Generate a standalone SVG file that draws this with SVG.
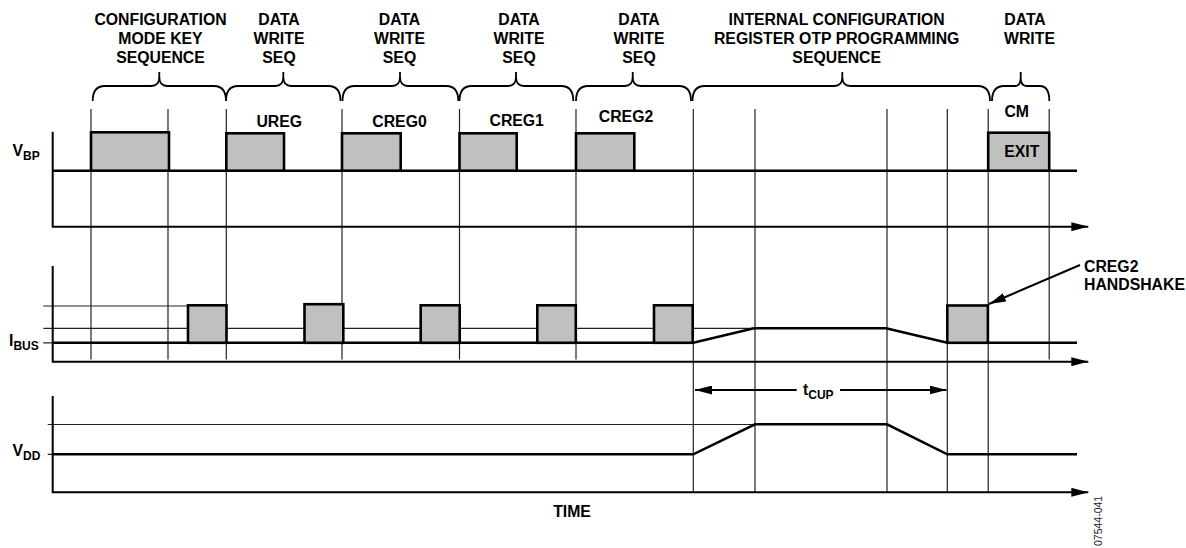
<svg xmlns="http://www.w3.org/2000/svg" width="1186" height="548" viewBox="0 0 1186 548">
<defs>
<marker id="ah" markerUnits="userSpaceOnUse" markerWidth="17" markerHeight="9" refX="17" refY="4.5" orient="auto"><path d="M0,0 L17,4.5 L0,9 Z" fill="#000"/></marker>
</defs>
<style>
.t{font-family:"Liberation Sans",Arial,Helvetica,sans-serif;font-weight:bold;font-size:15.8px;fill:#000}
.c{text-anchor:middle}
.sub{font-size:12px}
.ax{stroke:#000;stroke-width:2;fill:none}
.g{stroke:#222;stroke-width:1.2;fill:none}
.th{stroke:#000;stroke-width:2.6;fill:none;stroke-linejoin:miter}
.p{fill:#c0c0c0;stroke:#000;stroke-width:2.6}
.br{stroke:#000;stroke-width:1.8;fill:none}
</style>
<rect width="1186" height="548" fill="#fff"/>

<g id="headers" class="t c">
<text x="160.5" y="25">CONFIGURATION</text>
<text x="160.5" y="44.3">MODE KEY</text>
<text x="160.5" y="63">SEQUENCE</text>
<text x="279" y="25">DATA</text>
<text x="279" y="44.3">WRITE</text>
<text x="279" y="63">SEQ</text>
<text x="399.5" y="25">DATA</text>
<text x="399.5" y="44.3">WRITE</text>
<text x="399.5" y="63">SEQ</text>
<text x="519" y="25">DATA</text>
<text x="519" y="44.3">WRITE</text>
<text x="519" y="63">SEQ</text>
<text x="639" y="25">DATA</text>
<text x="639" y="44.3">WRITE</text>
<text x="639" y="63">SEQ</text>
<text x="836.7" y="25">INTERNAL CONFIGURATION</text>
<text x="836.7" y="44.3">REGISTER OTP PROGRAMMING</text>
<text x="836.7" y="63">SEQUENCE</text>
<text x="1025" y="25">DATA</text>
<text x="1029.5" y="44.3">WRITE</text>
</g>

<g id="braces" class="br">
<path d="M92.7,101 Q92.7,86 104.7,86 H151.3 Q159.3,86 159.3,77 V72 M159.3,77 Q159.3,86 167.3,86 H214 Q226,86 226,101"/>
<path d="M226,101 Q226,86 238,86 H275.3 Q283.3,86 283.3,77 V72 M283.3,77 Q283.3,86 291.3,86 H328.5 Q340.5,86 340.5,101"/>
<path d="M342.5,101 Q342.5,86 354.5,86 H392 Q400,86 400,77 V72 M400,77 Q400,86 408,86 H446.3 Q458.3,86 458.3,101"/>
<path d="M459.5,101 Q459.5,86 471.5,86 H508 Q516,86 516,77 V72 M516,77 Q516,86 524,86 H561.3 Q573.3,86 573.3,101"/>
<path d="M576,101 Q576,86 588,86 H624.7 Q632.7,86 632.7,77 V72 M632.7,77 Q632.7,86 640.7,86 H679 Q691,86 691,101"/>
<path d="M692.5,101 Q692.5,86 704.5,86 H834.3 Q842.3,86 842.3,77 V72 M842.3,77 Q842.3,86 850.3,86 H978 Q990,86 990,101"/>
<path d="M992,101 Q992,86 1004,86 H1014.7 Q1020.7,86 1020.7,78 V72 M1020.7,78 Q1020.7,86 1026.7,86 H1040 Q1049.3,86 1049.3,101"/>
</g>

<g id="gridlines" class="g">
<path d="M91,109 V359.5 M168,109 V359.5 M226.3,109 V359.5 M342,109 V359.5 M459.5,109 V359.5 M576,109 V359.5 M1049.2,109 V359.5"/>
<path d="M693.3,109 V492 M755,109 V492 M887,109 V492 M947.3,109 V492 M988.2,109 V492"/>
<path d="M43.3,306 H188 M43.3,328.3 H755 M43.3,342.8 H52.7"/>
<path d="M47.7,424.5 H755 M47.7,454.3 H52.7"/>
</g>

<g id="axes" class="ax">
<path d="M52.7,131.7 V226.7 H1088.3" marker-end="url(#ah)"/>
<path d="M52.7,266 V361.7 H1088.3" marker-end="url(#ah)"/>
<path d="M52.7,396 V492.3 H1088.3" marker-end="url(#ah)"/>
</g>

<g id="signals" class="th">
<path d="M52.7,170.7 H1077"/>
<path d="M52.7,342.8 H693.3 L754,328.3 H886 L947.3,342.8 H1077"/>
<path d="M52.7,454.3 H693.3 L755,424.3 H887 L947.3,454.3 H1077"/>
</g>

<g id="vbp-pulses" class="p">
<rect x="91" y="132.3" width="78" height="38.4"/>
<rect x="226.3" y="133.3" width="57.7" height="37.4"/>
<rect x="342" y="133.3" width="58.7" height="37.4"/>
<rect x="459.5" y="133.3" width="57.2" height="37.4"/>
<rect x="576" y="133.3" width="58.3" height="37.4"/>
<rect x="988.2" y="132.7" width="61" height="38"/>
</g>

<g id="ibus-pulses" class="p">
<rect x="188" y="305.3" width="38.5" height="37.5"/>
<rect x="304.5" y="304.2" width="38.8" height="38.6"/>
<rect x="420.7" y="305.3" width="39" height="37.5"/>
<rect x="537.3" y="305.3" width="38.5" height="37.5"/>
<rect x="654" y="305.3" width="38.7" height="37.5"/>
<rect x="947.3" y="305.5" width="40.6" height="37.3"/>
</g>

<g id="pulse-labels" class="t c">
<text x="279.2" y="126.6">UREG</text>
<text x="399.5" y="126.6">CREG0</text>
<text x="516.7" y="125.7">CREG1</text>
<text x="626" y="122.3">CREG2</text>
<text x="1016.7" y="117.3">CM</text>
<text x="1021.8" y="157.3">EXIT</text>
</g>

<g id="axis-labels" class="t">
<text x="12.5" y="156">V<tspan class="sub" dy="3.5">BP</tspan></text>
<text x="9" y="346">I<tspan class="sub" dy="4">BUS</tspan></text>
<text x="12.5" y="455.7">V<tspan class="sub" dy="4.3">DD</tspan></text>
<text class="c" x="572" y="517">TIME</text>
</g>

<g id="tcup">
<path class="ax" d="M796.7,390 H695" marker-end="url(#ah)"/>
<path class="ax" d="M840,390 H946.5" marker-end="url(#ah)"/>
<text class="t" x="803" y="395">t<tspan class="sub" dy="4.3">CUP</tspan></text>
</g>

<g id="handshake">
<path class="ax" d="M1080,265 L989,304" marker-end="url(#ah)"/>
<text class="t" x="1084" y="271.7">CREG2</text>
<text class="t" x="1084" y="290">HANDSHAKE</text>
</g>

<text transform="translate(1102,546) rotate(-90)" font-family="'Liberation Sans',Arial,sans-serif" font-size="10.5" fill="#222">07544-041</text>
</svg>
